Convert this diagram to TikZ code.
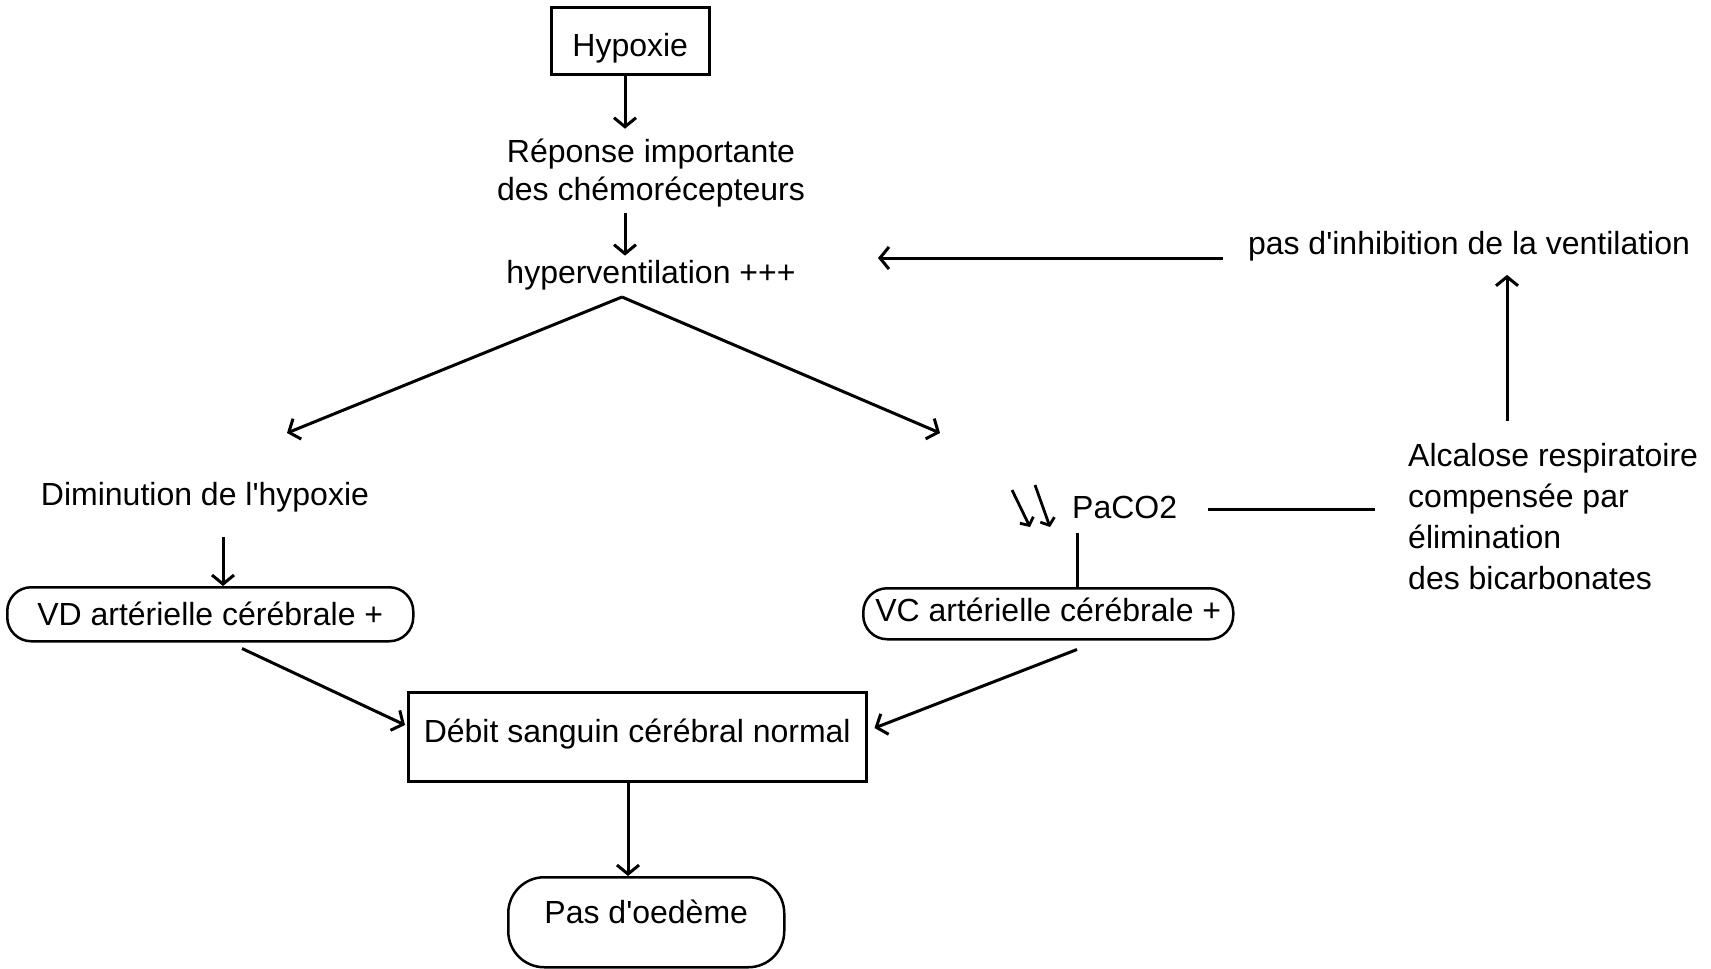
\documentclass[tikz,border=0pt]{standalone}
\usepackage{fontspec}
\setmainfont[Ligatures=TeXOff]{Liberation Sans}
\usetikzlibrary{arrows.meta,calc}
\begin{document}
\begin{tikzpicture}[x=1pt,y=-1pt,
  every node/.style={font=\fontsize{32}{38}\selectfont, inner sep=0pt},
  conn/.style={line width=3pt},
  arr/.style={conn, -{Straight Barb[length=9pt,width=22pt,line width=3pt]}},
  arrsmall/.style={line width=2.8pt, -{Straight Barb[length=6pt,width=15pt,line width=2.8pt]}},
  boxn/.style={draw, line width=2.5pt},
]
\useasboundingbox (0,0) rectangle (1711,969);

% nodes
\node[boxn, anchor=north west, minimum width=158pt, text height=49pt, text depth=18pt] (hyp) at (550,6) {Hypoxie};
\node[align=center] (rep) at (651,173) {Réponse importante\\des chémorécepteurs};
\node[anchor=base] (hv) at (651,283) {hyperventilation +++};
\node[anchor=base] (dim) at (205,505) {Diminution de l'hypoxie};
\node[boxn, rounded corners=24pt, anchor=north west, minimum width=406pt, text height=38pt, text depth=16pt] (vd) at (6,586) {VD artérielle cérébrale +};
\node[boxn, rounded corners=24pt, anchor=north west, minimum width=370pt, text height=33pt, text depth=18pt] (vc) at (862,587) {VC artérielle cérébrale +};
\node[anchor=base west] (pa) at (1072,518) {PaCO2};
\node[align=left, anchor=north west, font=\fontsize{32}{41}\selectfont] (alc) at (1408,443) {Alcalose respiratoire\\compensée par\\élimination\\des bicarbonates};
\node[anchor=base] (pas) at (1469,254) {pas d'inhibition de la ventilation};
\node[boxn, anchor=north west, minimum width=458pt, text height=50pt, text depth=39pt] (deb) at (407,691) {Débit sanguin cérébral normal};
\node[boxn, rounded corners=36pt, anchor=north west, minimum width=276pt, text height=46pt, text depth=44pt] (pdo) at (507,876) {Pas d'oedème};

% helper coordinates
\coordinate (ax) at (625,0);
\coordinate (apex) at (622,297);
\coordinate (tl) at (287,433);
\coordinate (tr) at (940,433);
\coordinate (he) at (878,258);
\coordinate (vx) at (1507,0);
\coordinate (dv) at (223,0);
\coordinate (dx) at (628,0);
\coordinate (pv) at ($(pa.base west)+(5,15)$);

% connectors
\draw[arr, shorten >=10pt] (hyp.south -| ax) -- (rep.north -| ax);
\draw[arr, shorten <=6pt, shorten >=4pt] (rep.south -| ax) -- (hv.north -| ax);
\draw[arr] (apex) -- (tl);
\draw[arr] (apex) -- (tr);
\draw[arr] ($(pas.west |- he)+(-25,0)$) -- (he);
\draw[arr, shorten <=22pt, shorten >=14pt] (alc.north -| vx) -- (pas.south -| vx);
\draw[conn] ($(pa.east)+(31,3)$) -- ($(alc.west |- pa.east)+(-33,3)$);
\draw[conn] (pv) -- (pv |- vc.north);
\draw[arr, shorten <=25pt] (dim.south -| dv) -- (vd.north -| dv);
\draw[arr] ($(vd.south west)+(236,6)$) -- ($(deb.north west)+(-2,34)$);
\draw[arr] ($(vc.south west)+(215,9)$) -- ($(deb.north east)+(7,37)$);
\draw[arr] (deb.south -| dx) -- (pdo.north -| dx);

% double down arrows before PaCO2
\draw[arrsmall] ($(pa.base west)+(-60,-28)$) -- ($(pa.base west)+(-42,9)$);
\draw[arrsmall] ($(pa.base west)+(-37,-33)$) -- ($(pa.base west)+(-22,9)$);
\end{tikzpicture}
\end{document}
